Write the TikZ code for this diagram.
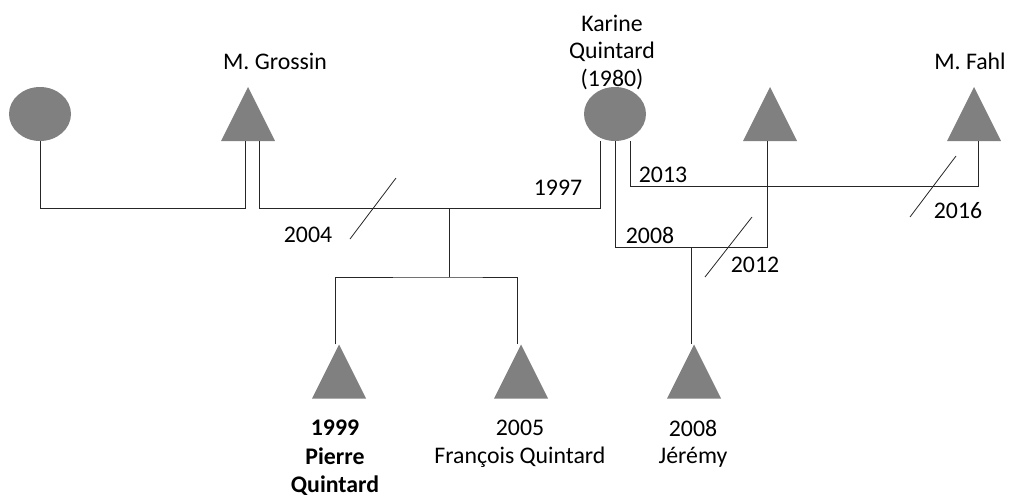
\documentclass[tikz,border=0pt]{standalone}
\usepackage{fontspec}
\setmainfont{Carlito}
\usetikzlibrary{positioning,shapes.geometric}
\definecolor{gris}{RGB}{128,128,128}
\tikzset{
  fem/.style={ellipse, fill=gris, minimum width=62, minimum height=54, inner sep=0pt},
  masc/.style={minimum width=54, minimum height=54, inner sep=0pt,
    path picture={\fill[gris] (path picture bounding box.south west) -- (path picture bounding box.south east) -- (path picture bounding box.north) -- cycle;}},
  lien/.style={draw=black!85, line width=0.9pt},
  barre/.style={draw=black!85, line width=0.8pt},
  nom/.style={align=center, inner sep=0pt, font=\fontsize{23.8}{27.5}\selectfont},
}
\begin{document}
\begin{tikzpicture}[x=1pt, y=-1pt]
  \useasboundingbox (0,0) rectangle (1012,499);
  % generation 1
  \node[fem] (mere) at (40,114) {};
  \node[masc] (gro) at (248,114) {};
  \node[fem] (kar) at (615,114) {};
  \node[masc] (pere) at (770,114) {};
  \node[masc] (fahl) at (974,114) {};
  % enfants
  \node[masc] (pie) at (339,371.5) {};
  \node[masc] (fra) at (521,371.5) {};
  \node[masc] (jer) at (694,371.5) {};
  % noms
  \node[nom] (tgro) at (275,61) {M. Grossin};
  \node[nom] (tkar) at (612,52) {Karine\\Quintard\\(1980)};
  \node[nom] (tfahl) at (970,61) {M. Fahl};
  \node[nom, font=\fontsize{23.8}{28.5}\selectfont\bfseries] (tpie) at (335,458) {1999\\Pierre\\Quintard};
  \node[nom] (tfra) at (520,444) {2005\\François Quintard};
  \node[nom] (tjer) at (693,444) {2008\\Jérémy};
  % unions
  \draw[lien] (mere.south) -- ++(0,67) -| ([xshift=-3]gro.south);
  \draw[lien] ([xshift=11]gro.south) -- ++(0,67) -| ([xshift=-15]kar.south);
  \coordinate (u1) at (449,208);
  \draw[lien] (u1) -- ++(0,69) coordinate (f1);
  \draw[lien] ([xshift=-4]pie.north) |- (f1) -| ([xshift=-4]fra.north);
  \draw[lien] (kar.south) -- ++(0,106) -| ([xshift=-3]pere.south);
  \coordinate (u2) at (691,247);
  \draw[lien] (u2) -- ([xshift=-3]jer.north);
  \draw[lien] ([xshift=15]kar.south) -- ++(0,45) -| ([xshift=4]fahl.south);
  % separations
  \draw[barre] (396,178) -- (350,239);
  \draw[barre] (752,217) -- (705,277);
  \draw[barre] (956,156) -- (910,217);
  % dates
  \node[nom] (d1997) at (558,188) {1997};
  \node[nom] (d2004) at (308,235) {2004};
  \node[nom] (d2013) at (663,175) {2013};
  \node[nom] (d2008) at (650,235) {2008};
  \node[nom] (d2012) at (755,265) {2012};
  \node[nom] (d2016) at (958,211) {2016};
\end{tikzpicture}
\end{document}
